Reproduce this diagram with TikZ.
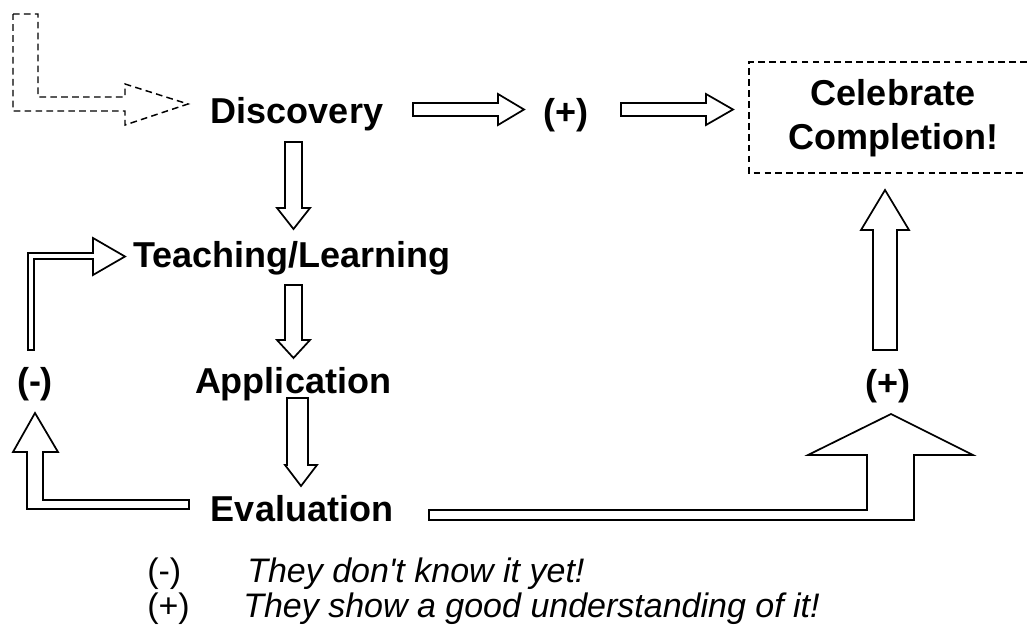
\documentclass[tikz,border=0pt]{standalone}
\usepackage{fontspec}
\setmainfont{Liberation Sans}[Ligatures=TeXOff]
\begin{document}
\begin{tikzpicture}[x=0.75pt,y=-0.75pt,
  lbl/.style={font=\bfseries\fontsize{27}{33}\selectfont, inner sep=0pt, anchor=base},
  legend/.style={font=\fontsize{25.5}{30}\selectfont, inner sep=0pt, anchor=base west},
  blockarrow/.style={draw=black, line width=1.3pt, fill=white, line join=miter},
  dashedarrow/.style={draw=black, line width=1.1pt, dash pattern=on 5pt off 3.2pt, line join=miter},
  dashedbox/.style={draw=black, line width=1.1pt, dash pattern=on 5pt off 3.2pt}]
\useasboundingbox (0,0) rectangle (1027,628);

% text nodes
\node[lbl] (disc) at (297,123) {Discovery};
\node[lbl] (plusmid) at (566,124) {(+)};
\node[lbl] (teach) at (292,267) {Teaching/Learning};
\node[lbl] (appl) at (293,393) {Application};
\node[lbl] (eval) at (302,521) {Evaluation};
\node[lbl] (minus) at (35,393) {(-)};
\node[lbl] (plusright) at (888,395) {(+)};
\node[lbl, align=center, anchor=center] (celeb) at (893,118) {Celebrate\\Completion!};

% dashed box around Celebrate Completion (right side off the page)
\draw[dashedbox] (1027,62) -- (749,62) -- (749,173) -- (1027,173);

% dashed start arrow
\draw[dashedarrow] (13,14) -- (38,14) -- (38,97) -- (125,97) -- (125,84) -- (188,104)
  -- (125,125) -- (125,111) -- (13,111) -- cycle;

% horizontal arrows
\draw[blockarrow] (413,103) -- (498,103) -- (498,94) -- (524,109.5) -- (498,125) -- (498,116) -- (413,116) -- cycle;
\draw[blockarrow] (621,103) -- (706,103) -- (706,94) -- (733,109.5) -- (706,125) -- (706,116) -- (621,116) -- cycle;

% down arrows
\draw[blockarrow] (285,142) -- (302,142) -- (302,208) -- (310,208) -- (293.5,229) -- (277,208) -- (285,208) -- cycle;
\draw[blockarrow] (285,285) -- (302,285) -- (302,340) -- (310,340) -- (293.5,358) -- (277,340) -- (285,340) -- cycle;
\draw[blockarrow] (287,398) -- (308,398) -- (308,465) -- (317,465) -- (301,486) -- (285,465) -- (287,465) -- cycle;

% (-) to Teaching/Learning
\draw[blockarrow] (28,350) -- (28,253) -- (93,253) -- (93,238) -- (125,256.5) -- (93,275) -- (93,259) -- (34,259) -- (34,350) -- cycle;

% Evaluation to (-)
\draw[blockarrow] (189,500) -- (43,500) -- (43,452) -- (58,452) -- (35,413) -- (13,452) -- (27,452) -- (27,509) -- (189,509) -- cycle;

% Evaluation to (+)
\draw[blockarrow] (429,510) -- (867,510) -- (867,455) -- (808,455) -- (891,414) -- (973,455) -- (914,455) -- (914,520) -- (429,520) -- cycle;

% (+) to Celebrate
\draw[blockarrow] (873,350) -- (873,230) -- (861,230) -- (885,190) -- (909,230) -- (897,230) -- (897,350) -- cycle;

% legend
\node[legend] (lm) at (147,582) {(-)};
\node[legend] (lmt) at (247,582) {\itshape They don't know it yet!};
\node[legend] (lp) at (147,617) {(+)};
\node[legend] (lpt) at (243,617) {\itshape They show a good understanding of it!};
\end{tikzpicture}
\end{document}
